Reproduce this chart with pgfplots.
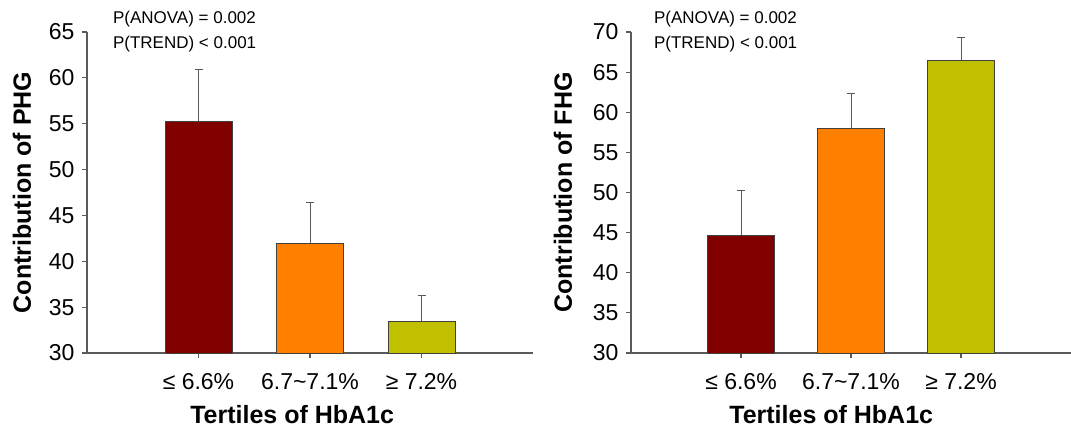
\documentclass[border=0pt]{standalone}
\usepackage{pgfplots}
\pgfplotsset{compat=1.18}
\usepackage{fontspec}
\setmainfont{Liberation Sans}
\definecolor{barA}{HTML}{800000}
\definecolor{barB}{HTML}{FF8000}
\definecolor{barC}{HTML}{C0C000}
\definecolor{axisgray}{HTML}{5A5A5A}
\tikzset{pnote/.style={anchor=west, inner sep=0pt, font=\fontsize{17}{20}\selectfont}}
\pgfplotsset{
  panel/.style={
    scale only axis,
    height=321pt,
    ybar, bar width=67pt, bar shift=0pt,
    xmin=-1, xmax=3,
    ymin=30,
    axis x line*=bottom, axis y line*=left,
    axis line style={axisgray, line width=1.1pt},
    tick style={axisgray, line width=1.1pt},
    tick align=outside,
    major tick length=5pt,
    xtick={0,1,2},
    xticklabels={≤ 6.6\%, 6.7\textasciitilde7.1\%, ≥ 7.2\%},
    /pgf/number format/assume math mode=true,
    ticklabel style={font=\fontsize{23}{27}\selectfont},
    yticklabel style={xshift=-4pt},
    xticklabel style={yshift=-12pt},
    label style={font=\bfseries\fontsize{25}{30}\selectfont},
    clip=false,
    every axis plot/.append style={draw=black!75, line width=0.8pt},
    error bars/y dir=plus, error bars/y explicit,
    error bars/error bar style={axisgray, line width=1pt},
    error bars/error mark options={axisgray, line width=1pt, mark size=4pt, rotate=90},
  },
}
\begin{document}
\begin{tikzpicture}
\useasboundingbox (0,0) rectangle (1071pt,434pt);
% Left panel
\begin{axis}[panel, at={(87pt,81pt)}, anchor=south west, width=446pt,
  ymax=65, ytick={30,35,40,45,50,55,60,65},
  ylabel={Contribution of PHG},
  ylabel style={at={(axis description cs:-0.1457,0.5)}, anchor=center},
  xlabel={Tertiles of HbA1c},
  xlabel style={at={(axis description cs:0.46,-0.193)}, anchor=center},
]
\addplot[fill=barA] coordinates {(0,55.3) +- (0,5.6)};
\addplot[fill=barB] coordinates {(1,42.0) +- (0,4.4)};
\addplot[fill=barC] coordinates {(2,33.5) +- (0,2.8)};
\node[pnote] at (rel axis cs:0.058,1.041) {P(ANOVA) = 0.002};
\node[pnote] at (rel axis cs:0.058,0.963) {P(TREND) < 0.001};
\end{axis}
% Right panel
\begin{axis}[panel, at={(631pt,81pt)}, anchor=south west, width=440pt,
  ymax=70, ytick={30,35,40,45,50,55,60,65,70},
  ylabel={Contribution of FHG},
  ylabel style={at={(axis description cs:-0.1545,0.5)}, anchor=center},
  xlabel={Tertiles of HbA1c},
  xlabel style={at={(axis description cs:0.455,-0.193)}, anchor=center},
]
\addplot[fill=barA] coordinates {(0,44.7) +- (0,5.6)};
\addplot[fill=barB] coordinates {(1,58.0) +- (0,4.3)};
\addplot[fill=barC] coordinates {(2,66.5) +- (0,2.8)};
\node[pnote] at (rel axis cs:0.052,1.041) {P(ANOVA) = 0.002};
\node[pnote] at (rel axis cs:0.052,0.963) {P(TREND) < 0.001};
\end{axis}
\end{tikzpicture}
\end{document}
